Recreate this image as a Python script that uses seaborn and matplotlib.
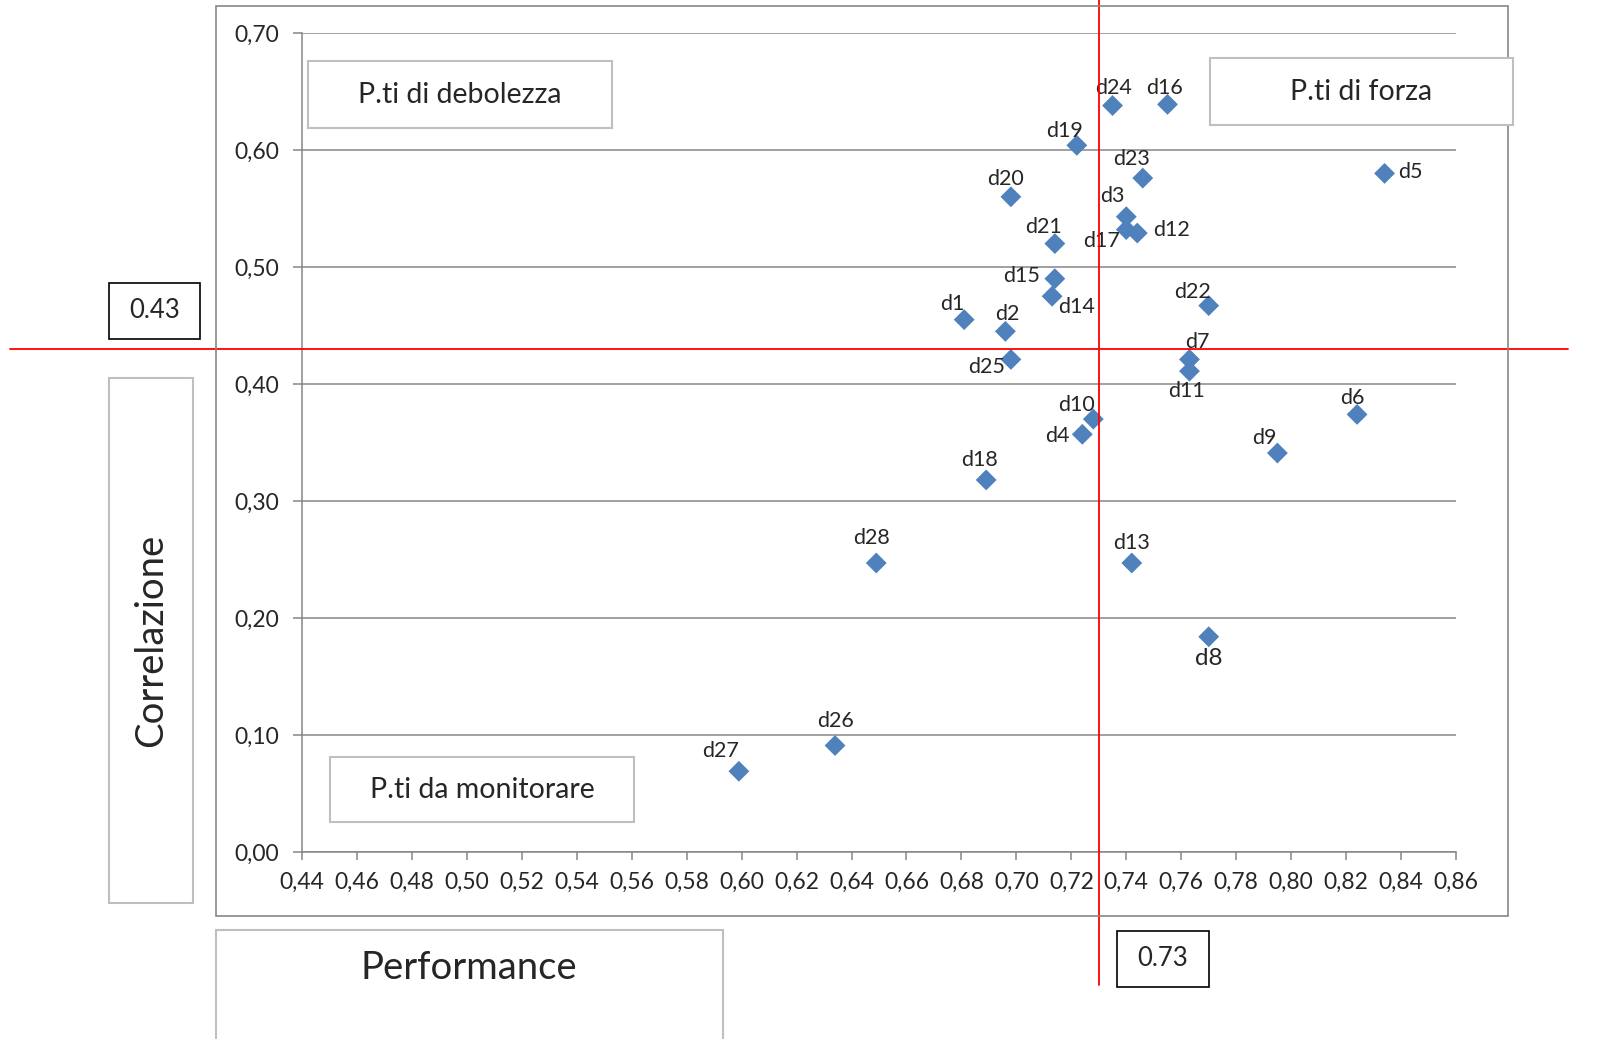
import numpy as np
import pandas as pd
import matplotlib
matplotlib.use("Agg")
import matplotlib.pyplot as plt
import seaborn as sns
from matplotlib.patches import Rectangle
from matplotlib.ticker import MultipleLocator, FuncFormatter

# dati
etichette = ['d1', 'd2', 'd3', 'd4', 'd5', 'd6', 'd7', 'd8', 'd9', 'd10',
             'd11', 'd12', 'd13', 'd14', 'd15', 'd16', 'd17', 'd18', 'd19', 'd20',
             'd21', 'd22', 'd23', 'd24', 'd25', 'd26', 'd27', 'd28']
performance = [0.681, 0.696, 0.740, 0.724, 0.834, 0.824, 0.763, 0.770, 0.795, 0.728,
               0.763, 0.744, 0.742, 0.713, 0.714, 0.755, 0.740, 0.689, 0.722, 0.698,
               0.714, 0.770, 0.746, 0.735, 0.698, 0.634, 0.599, 0.649]
correlazione = [0.455, 0.445, 0.543, 0.357, 0.580, 0.374, 0.421, 0.184, 0.341, 0.370,
                0.411, 0.529, 0.247, 0.475, 0.490, 0.639, 0.532, 0.318, 0.604, 0.560,
                0.520, 0.467, 0.576, 0.638, 0.421, 0.091, 0.069, 0.247]
soglia_x = 0.73
soglia_y = 0.43

# spostamento delle etichette (pixel, y verso l'alto)
offset_etichette = {
    'd1': (-12, 16), 'd2': (2, 17), 'd3': (-14, 21), 'd4': (-25, -2),
    'd5': (26, 1), 'd6': (-5, 16), 'd7': (8, 17), 'd8': (0, -22),
    'd9': (-13, 15), 'd10': (-17, 14), 'd11': (-3, -20), 'd12': (34, 3),
    'd13': (0, 20), 'd14': (24, -11), 'd15': (-33, 3), 'd16': (-3, 16),
    'd17': (-25, -11), 'd18': (-7, 20), 'd19': (-12, 14), 'd20': (-5, 18),
    'd21': (-11, 17), 'd22': (-16, 14), 'd23': (-11, 19), 'd24': (1, 18),
    'd25': (-24, -8), 'd26': (0, 25), 'd27': (-18, 20), 'd28': (-5, 25),
}

df = pd.DataFrame({'Performance': performance, 'Correlazione': correlazione,
                   'Etichetta': etichette})

sns.set_style("white")
plt.rcParams['font.family'] = ['Lato', 'DejaVu Sans']

W, H = 1613, 1039
fig = plt.figure(figsize=(W / 100, H / 100), dpi=100)
ax = fig.add_axes([302 / W, 1 - 852 / H, 1154 / W, 819 / H])

grigio = '#868686'
diamante = [(0, 1), (1, 0), (0, -1), (-1, 0), (0, 1)]
sns.scatterplot(data=df, x='Performance', y='Correlazione', marker=diamante, s=225,
                color='#4F81BD', edgecolor='none', zorder=3, legend=False, ax=ax)

for _, r in df.iterrows():
    dx, dy = offset_etichette[r['Etichetta']]
    size = 17.5 if r['Etichetta'] == 'd8' else 15.5
    ax.annotate(r['Etichetta'], (r['Performance'], r['Correlazione']),
                xytext=(dx, dy), textcoords='offset pixels',
                ha='center', va='center', fontsize=size, zorder=4)

ax.set_xlim(0.44, 0.86)
ax.set_ylim(0, 0.70)
ax.xaxis.set_major_locator(MultipleLocator(0.02))
ax.yaxis.set_major_locator(MultipleLocator(0.10))
virgola = FuncFormatter(lambda v, p: f"{v:.2f}".replace('.', ','))
ax.xaxis.set_major_formatter(virgola)
ax.yaxis.set_major_formatter(virgola)
ax.set_xlabel('')
ax.set_ylabel('')
ax.tick_params(axis='x', direction='out', length=6, width=1.1, color=grigio,
               pad=8, labelsize=16.5, bottom=True)
ax.tick_params(axis='y', direction='out', length=6.5, width=1.1, color=grigio,
               pad=10, labelsize=16.5, left=True)
ax.grid(axis='y', color=grigio, linewidth=1.1)
ax.grid(axis='x', visible=False)
sns.despine(ax=ax)
for lato in ['left', 'bottom']:
    ax.spines[lato].set_color(grigio)
    ax.spines[lato].set_linewidth(1.1)

# linee di soglia
ax.axvline(soglia_x, ymin=-0.162, ymax=1.04, color='red', linewidth=1.3,
           clip_on=False, zorder=5)
ax.axhline(soglia_y, xmin=-0.253, xmax=1.097, color='red', linewidth=1.3,
           clip_on=False, zorder=5)


def riquadro(x0, y0, x1, y1, testo, size, bordo='#bfbfbf', rot=0, lw=1.5):
    fig.add_artist(Rectangle((x0 / W, 1 - y1 / H), (x1 - x0) / W, (y1 - y0) / H,
                             transform=fig.transFigure, facecolor='white',
                             edgecolor=bordo, linewidth=lw, zorder=2))
    fig.text((x0 + x1) / 2 / W, 1 - (y0 + y1) / 2 / H, testo, ha='center',
             va='center', fontsize=size, rotation=rot, zorder=3)


# cornice del grafico
fig.add_artist(Rectangle((216 / W, 1 - 916 / H), 1292 / W, 910 / H,
                         transform=fig.transFigure, facecolor='none',
                         edgecolor=grigio, linewidth=1.2, zorder=1))

riquadro(308, 61, 612, 128, 'P.ti di debolezza', 20.5)
riquadro(1210, 58, 1513, 125, 'P.ti di forza', 20.5)
riquadro(330, 757, 634, 822, 'P.ti da monitorare', 20.5)
riquadro(109, 283, 200, 339, '0.43', 18.5, bordo='black', lw=1.2)
riquadro(1117, 931, 1209, 987, '0.73', 18.5, bordo='black', lw=1.2)
riquadro(109, 378, 193, 903, 'Correlazione', 27.5, rot=90)
fig.add_artist(Rectangle((216 / W, 1 - 1060 / H), 507 / W, 130 / H,
                         transform=fig.transFigure, facecolor='white',
                         edgecolor='#bfbfbf', linewidth=1.5, zorder=2))
fig.text(469 / W, 1 - 968 / H, 'Performance', ha='center', va='center', fontsize=27.5)

plt.savefig('out.png', dpi=100)
